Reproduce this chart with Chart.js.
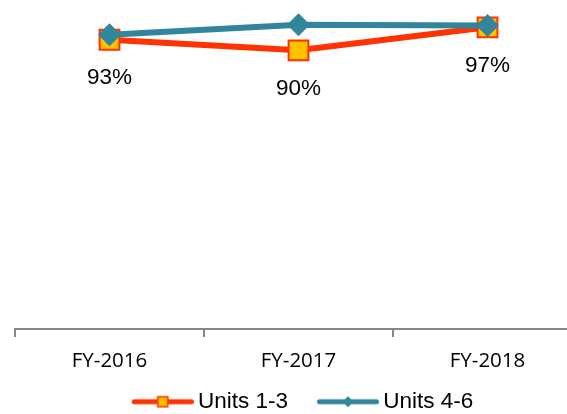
<!DOCTYPE html>
<html>
<head>
<meta charset="utf-8">
<script src="https://cdn.jsdelivr.net/npm/chart.js@4"></script>
<style>
  html, body { margin: 0; padding: 0; background: #fff; overflow: hidden; }
  #chart { display: block; }
</style>
</head>
<body>
<canvas id="chart" width="582" height="414"></canvas>
<script>
/* ===== DATA ===== */
const categories = ["FY-2016", "FY-2017", "FY-2018"];
const seriesNames = ["Units 1-3", "Units 4-6"];
const units13 = [93, 89.6, 97];
const units46 = [94.6, 97.8, 97.6];

/* ===== COLOURS ===== */
const ORANGE = "#ff3300";
const YELLOW = "#ffc000";
const TEAL = "#31859c";

/* ===== LEGEND ICONS (line + marker, transparent left margin) ===== */
function makeIcon(color, marker) {
  const c = document.createElement("canvas");
  c.width = 92;
  c.height = 14;
  const g = c.getContext("2d");
  g.strokeStyle = color;
  g.lineWidth = 5;
  g.lineCap = "round";
  g.beginPath();
  g.moveTo(32.5, 7);
  g.lineTo(89.5, 7);
  g.stroke();
  const cx = 61;
  if (marker === "square") {
    g.fillStyle = YELLOW;
    g.fillRect(cx - 5, 2, 10, 10);
    g.strokeStyle = ORANGE;
    g.lineWidth = 1.5;
    g.strokeRect(cx - 5, 2, 10, 10);
  } else {
    g.fillStyle = color;
    g.beginPath();
    g.moveTo(cx, 1.5);
    g.lineTo(cx + 5.5, 7);
    g.lineTo(cx, 12.5);
    g.lineTo(cx - 5.5, 7);
    g.closePath();
    g.fill();
  }
  return c;
}
const legendIcons = [makeIcon(ORANGE, "square"), makeIcon(TEAL, "diamond")];

/* ===== VALUE LABELS UNDER UNITS 1-3 ===== */
const valueLabels = {
  id: "valueLabels",
  afterDatasetsDraw(chart) {
    const meta = chart.getDatasetMeta(0);
    const ctx = chart.ctx;
    ctx.save();
    ctx.font = '22.5px "Liberation Sans", Arial, sans-serif';
    ctx.fillStyle = "#000";
    ctx.textAlign = "center";
    ctx.textBaseline = "middle";
    meta.data.forEach((pt, i) => {
      ctx.fillText(Math.round(units13[i]) + "%", pt.x, pt.y + 38.5);
    });
    ctx.restore();
  },
};

/* ===== CHART ===== */
new Chart(document.getElementById("chart"), {
  type: "line",
  data: {
    labels: categories,
    datasets: [
      {
        label: seriesNames[0],
        data: units13,
        order: 1,
        borderColor: ORANGE,
        borderWidth: 6,
        tension: 0,
        pointStyle: "rect",
        pointRadius: 14,
        pointHoverRadius: 14,
        pointBackgroundColor: YELLOW,
        pointBorderColor: ORANGE,
        pointBorderWidth: 2,
        clip: false,
      },
      {
        label: seriesNames[1],
        data: units46,
        order: 0,
        borderColor: TEAL,
        borderWidth: 6,
        tension: 0,
        pointStyle: "rectRot",
        pointRadius: 11,
        pointHoverRadius: 11,
        pointBackgroundColor: TEAL,
        pointBorderColor: TEAL,
        pointBorderWidth: 1,
        clip: false,
      },
    ],
  },
  options: {
    responsive: false,
    animation: false,
    layout: {
      autoPadding: false,
      padding: { top: 18, left: 0, right: 0, bottom: -9 },
    },
    plugins: {
      tooltip: { enabled: false },
      legend: {
        position: "bottom",
        labels: {
          font: { family: '"Liberation Sans", Arial, sans-serif', size: 22.5 },
          color: "#000",
          usePointStyle: true,
          pointStyleWidth: 78,
          padding: 6,
          generateLabels(chart) {
            const items = Chart.defaults.plugins.legend.labels.generateLabels(chart);
            return items
              .map((it) => ({ ...it, pointStyle: legendIcons[it.datasetIndex] }))
              .sort((a, b) => a.datasetIndex - b.datasetIndex);
          },
        },
      },
    },
    scales: {
      x: {
        type: "category",
        offset: true,
        grid: {
          display: true,
          drawOnChartArea: false,
          drawTicks: true,
          tickLength: 8,
          color: "#868686",
          lineWidth: 2,
          offset: true,
        },
        border: { display: true, color: "#868686", width: 2 },
        ticks: {
          font: { family: '"Open Sans", sans-serif', size: 20.5 },
          color: "#000",
          padding: 12,
          maxRotation: 0,
          autoSkip: false,
        },
        afterFit(s) {
          s.height = 55.5;
        },
      },
      y: {
        position: "left",
        min: 0,
        max: 100,
        ticks: { display: false },
        grid: { display: false },
        border: { display: false },
        afterFit(s) {
          s.width = 15;
        },
      },
    },
  },
  plugins: [valueLabels],
});
</script>
</body>
</html>
